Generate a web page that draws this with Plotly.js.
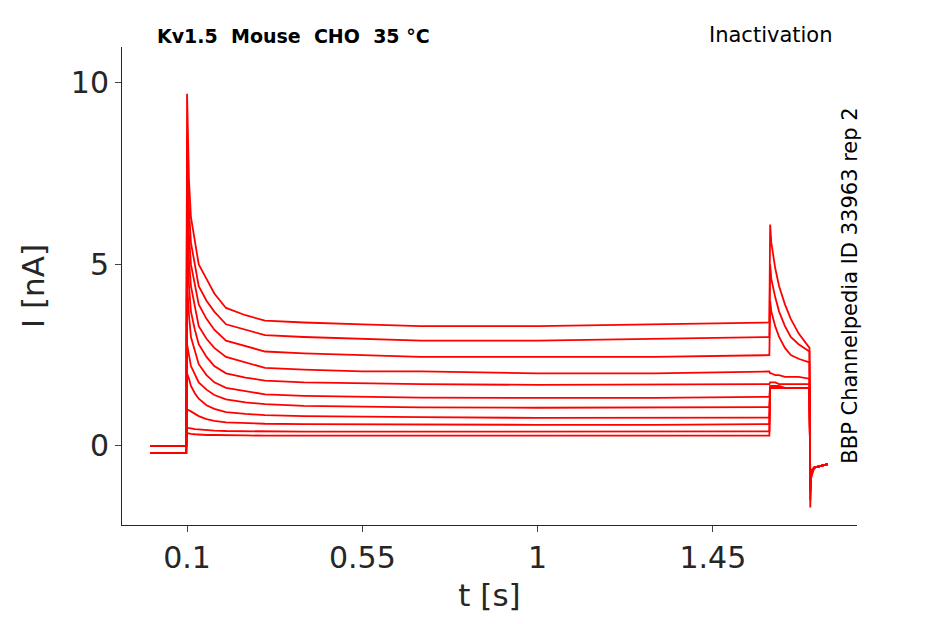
<!DOCTYPE html>
<html>
<head>
<meta charset="utf-8">
<script src="https://cdn.plot.ly/plotly-3.0.1.min.js"></script>
<style>body{margin:0;background:#fff}</style>
</head>
<body>
<div id="chart" style="width:945px;height:624px"></div>
<script>
// sample times [s]
var times = [0.005, 0.098, 0.1, 0.102, 0.105, 0.11, 0.12, 0.13, 0.15, 0.17, 0.2, 0.25, 0.3, 0.4, 0.55, 0.7, 1.0, 1.3, 1.595,
             1.597, 1.6, 1.61, 1.62, 1.635, 1.65, 1.67, 1.698, 1.70, 1.702, 1.71, 1.745];

// current per sweep [nA], read at the sample times
var sweep1  = [0, 0, 9.7, 8.3, 7.3, 6.3, 5.7, 5.0, 4.6, 4.2, 3.8, 3.6, 3.45, 3.4, 3.35, 3.3, 3.3, 3.35, 3.4,
               6.1, 5.6, 4.9, 4.4, 3.9, 3.5, 3.1, 2.7, -1.7, -0.9, -0.6, -0.5];
var sweep2  = [0, 0, 8.5, 7.4, 6.5, 5.6, 5.0, 4.4, 4.0, 3.7, 3.35, 3.2, 3.05, 3.0, 2.95, 2.9, 2.9, 2.95, 3.0,
               5.0, 4.6, 4.1, 3.7, 3.3, 3.0, 2.8, 2.6, -1.5, -0.8, -0.6, -0.5];
var sweep3  = [0, 0, 7.5, 6.6, 5.8, 5.0, 4.4, 3.9, 3.5, 3.2, 2.9, 2.75, 2.6, 2.55, 2.5, 2.45, 2.45, 2.45, 2.5,
               4.0, 3.7, 3.3, 3.0, 2.7, 2.5, 2.4, 2.3, -1.3, -0.8, -0.6, -0.5];
var sweep4  = [-0.2, -0.2, 6.5, 5.8, 5.1, 4.4, 3.8, 3.3, 2.95, 2.7, 2.45, 2.3, 2.15, 2.1, 2.05, 2.05, 2.0, 2.0, 2.05,
               2.0, 2.0, 1.95, 1.95, 1.9, 1.9, 1.9, 1.85, -1.2, -0.8, -0.6, -0.5];
var sweep5  = [-0.2, -0.2, 5.6, 5.0, 4.4, 3.7, 3.2, 2.8, 2.45, 2.2, 2.0, 1.88, 1.8, 1.75, 1.72, 1.7, 1.68, 1.68, 1.7,
               1.75, 1.75, 1.75, 1.7, 1.7, 1.7, 1.7, 1.7, -1.1, -0.8, -0.6, -0.5];
var sweep6  = [-0.2, -0.2, 4.5, 4.1, 3.6, 3.0, 2.6, 2.25, 1.95, 1.75, 1.6, 1.5, 1.42, 1.38, 1.35, 1.33, 1.32, 1.32, 1.35,
               1.65, 1.65, 1.65, 1.65, 1.6, 1.6, 1.6, 1.6, -1.0, -0.7, -0.6, -0.5];
var sweep7  = [0, 0, 2.8, 2.7, 2.5, 2.2, 1.95, 1.75, 1.55, 1.4, 1.28, 1.2, 1.15, 1.1, 1.08, 1.06, 1.05, 1.05, 1.07,
               1.6, 1.6, 1.6, 1.6, 1.6, 1.6, 1.6, 1.6, -1.0, -0.7, -0.6, -0.5];
var sweep8  = [0, 0, 2.0, 1.95, 1.85, 1.65, 1.45, 1.3, 1.12, 1.02, 0.93, 0.88, 0.85, 0.82, 0.8, 0.79, 0.77, 0.77, 0.78,
               1.6, 1.6, 1.6, 1.6, 1.6, 1.6, 1.6, 1.6, -0.9, -0.7, -0.6, -0.5];
var sweep9  = [0, 0, 1.0, 1.0, 0.98, 0.95, 0.88, 0.82, 0.74, 0.69, 0.65, 0.62, 0.61, 0.6, 0.59, 0.58, 0.58, 0.58, 0.6,
               1.6, 1.6, 1.6, 1.6, 1.6, 1.6, 1.6, 1.6, -0.9, -0.7, -0.6, -0.5];
var sweep10 = [0, 0, 0.5, 0.5, 0.5, 0.48, 0.46, 0.45, 0.43, 0.42, 0.41, 0.4, 0.4, 0.39, 0.39, 0.39, 0.39, 0.39, 0.4,
               1.6, 1.6, 1.6, 1.6, 1.6, 1.6, 1.6, 1.6, -0.9, -0.7, -0.6, -0.5];
var sweep11 = [-0.2, -0.2, 0.35, 0.35, 0.34, 0.33, 0.32, 0.31, 0.3, 0.3, 0.29, 0.29, 0.28, 0.28, 0.28, 0.28, 0.28, 0.28, 0.28,
               1.6, 1.6, 1.6, 1.6, 1.6, 1.6, 1.6, 1.6, -0.9, -0.7, -0.6, -0.5];

var sweeps = [sweep1, sweep2, sweep3, sweep4, sweep5, sweep6, sweep7, sweep8, sweep9, sweep10, sweep11];
var tickVals = [0.1, 0.55, 1, 1.45];
var tickText = ['0.1', '0.55', '1', '1.45'];

var data = sweeps.map(function (s) {
  return {x: times, y: s, mode: 'lines', type: 'scatter',
          line: {color: '#ff0000', width: 1.8}, hoverinfo: 'skip'};
});

var layout = {
  width: 945, height: 624,
  margin: {l: 122, r: 88, t: 47, b: 99},
  showlegend: false,
  paper_bgcolor: '#fff', plot_bgcolor: '#fff',
  font: {family: 'DejaVu Sans', color: '#262626'},
  xaxis: {range: [-0.067, 1.82], tickvals: tickVals, ticktext: tickText,
          showgrid: false, zeroline: false, showline: true, linecolor: '#262626',
          ticks: 'outside', ticklen: 6, tickfont: {size: 30},
          title: {text: 't [s]', font: {size: 31}, standoff: 10}},
  yaxis: {range: [-2.18, 10.99], tickvals: [0, 5, 10],
          showgrid: false, zeroline: false, showline: true, linecolor: '#262626',
          ticks: 'outside', ticklen: 6, tickfont: {size: 30},
          title: {text: 'I [nA]', font: {size: 31}, standoff: 16}},
  annotations: [
    {text: '<b>Kv1.5  Mouse  CHO  35 °C</b>', xref: 'paper', yref: 'paper',
     x: 0.045, y: 0.995, xanchor: 'left', yanchor: 'bottom', showarrow: false,
     font: {size: 19, color: '#000'}},
    {text: 'Inactivation', xref: 'paper', yref: 'paper',
     x: 0.97, y: 0.995, xanchor: 'right', yanchor: 'bottom', showarrow: false,
     font: {size: 21, color: '#000'}},
    {text: 'BBP Channelpedia ID 33963 rep 2', xref: 'paper', yref: 'paper',
     x: 0.99, y: 0.5, xanchor: 'center', yanchor: 'middle', showarrow: false,
     textangle: -90, font: {size: 21, color: '#000'}}
  ]
};

Plotly.newPlot('chart', data, layout, {displayModeBar: false, staticPlot: true});
</script>
</body>
</html>
